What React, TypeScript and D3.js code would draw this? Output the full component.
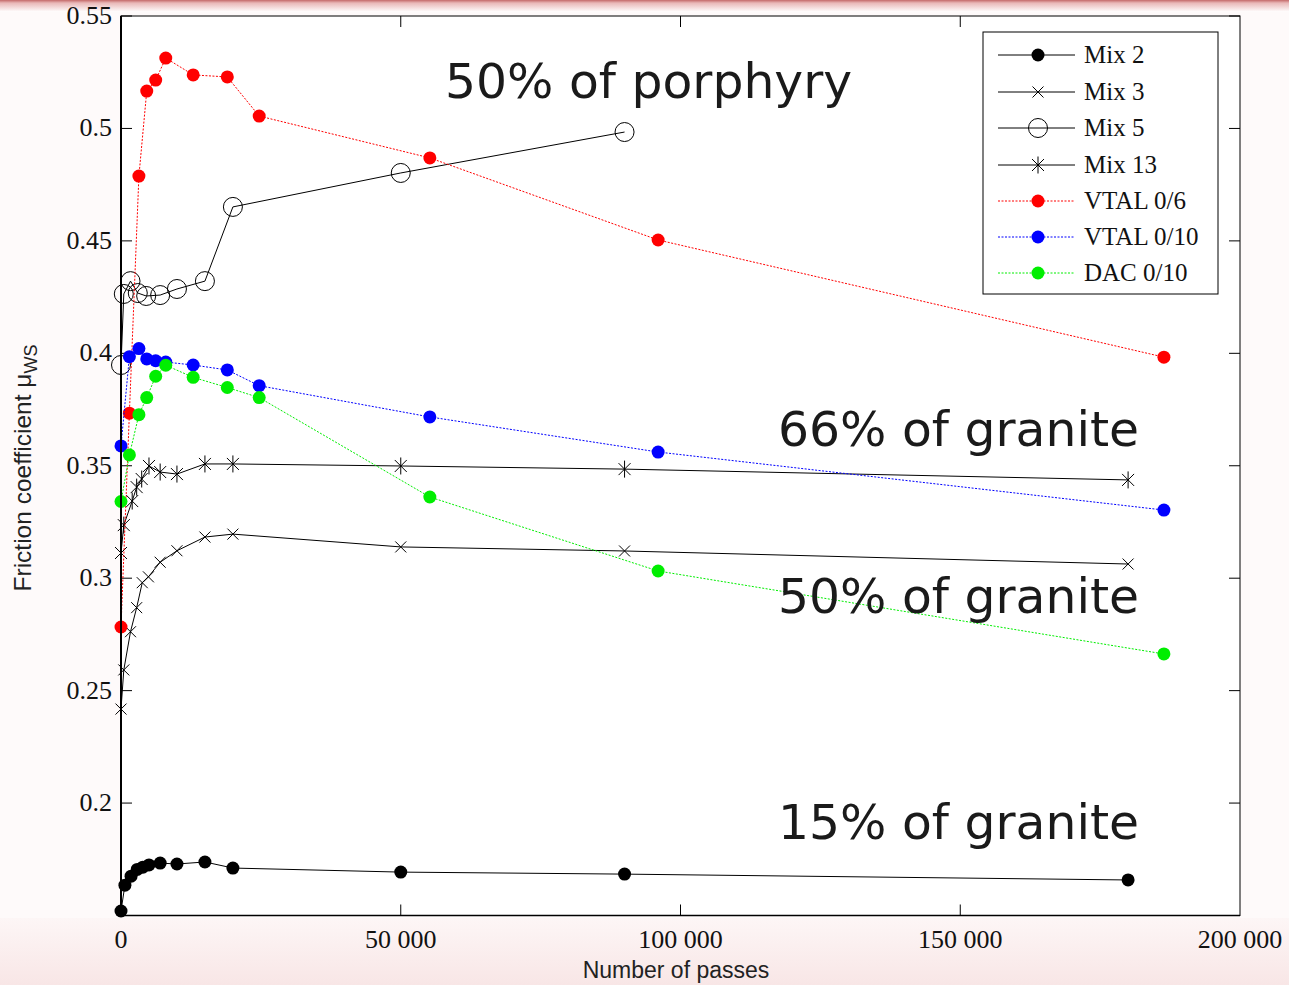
import React from "react";
import * as d3 from "d3";

// ---- Data ----
const mix2X = [0, 700, 1800, 2900, 3900, 5000, 7000, 10000, 15000, 20000, 50000, 90000, 180000];
const mix2Y = [0.152, 0.1635, 0.1675, 0.1705, 0.1715, 0.1725, 0.1733, 0.1729, 0.1738, 0.1711, 0.1693, 0.1684, 0.1658];

const mix3X = [0, 500, 1700, 2800, 3800, 4900, 7000, 10000, 15000, 20000, 50000, 90000, 180000];
const mix3Y = [0.2418, 0.2592, 0.2762, 0.2869, 0.298, 0.3006, 0.3071, 0.3122, 0.3183, 0.3196, 0.3139, 0.3121, 0.3063];

const mix5X = [0, 500, 1700, 3000, 4500, 7000, 10000, 15000, 20000, 50000, 90000];
const mix5Y = [0.3948, 0.4264, 0.4321, 0.4268, 0.4255, 0.4259, 0.4286, 0.4321, 0.4651, 0.4802, 0.4984];

const mix13X = [0, 500, 2000, 2800, 3700, 5000, 7000, 10000, 15000, 20000, 50000, 90000, 180000];
const mix13Y = [0.3112, 0.3236, 0.3343, 0.3405, 0.3441, 0.3499, 0.3472, 0.3463, 0.3508, 0.3508, 0.3499, 0.3485, 0.3437];

const vtalX = [0, 1500, 3200, 4600, 6200, 8000, 12900, 19000, 24700, 55200, 96000, 186400];
const vtal6Y = [0.2783, 0.3734, 0.4788, 0.5166, 0.5215, 0.5313, 0.5238, 0.5229, 0.5055, 0.4869, 0.4504, 0.3983];
const vtal10Y = [0.3588, 0.3985, 0.4021, 0.3975, 0.3967, 0.3961, 0.3948, 0.3926, 0.3856, 0.3717, 0.3561, 0.3303];
const dacY = [0.3341, 0.3548, 0.3727, 0.3803, 0.3898, 0.3947, 0.3893, 0.3848, 0.3803, 0.3361, 0.3032, 0.2663];

const xTicks = [0, 50000, 100000, 150000, 200000];
const xTickLabels = ["0", "50 000", "100 000", "150 000", "200 000"];
const yTicks = [0.2, 0.25, 0.3, 0.35, 0.4, 0.45, 0.5, 0.55];
const yTickLabels = ["0.2", "0.25", "0.3", "0.35", "0.4", "0.45", "0.5", "0.55"];

const annotations = ["50% of porphyry", "66% of granite", "50% of granite", "15% of granite"];

type Marker = "dot" | "x" | "circle" | "star";
interface Series {
  name: string;
  xs: number[];
  ys: number[];
  color: string;
  dashed: boolean;
  marker: Marker;
}

const series: Series[] = [
  { name: "Mix 2", xs: mix2X, ys: mix2Y, color: "#000", dashed: false, marker: "dot" },
  { name: "Mix 3", xs: mix3X, ys: mix3Y, color: "#000", dashed: false, marker: "x" },
  { name: "Mix 5", xs: mix5X, ys: mix5Y, color: "#000", dashed: false, marker: "circle" },
  { name: "Mix 13", xs: mix13X, ys: mix13Y, color: "#000", dashed: false, marker: "star" },
  { name: "VTAL 0/6", xs: vtalX, ys: vtal6Y, color: "#ff0000", dashed: true, marker: "dot" },
  { name: "VTAL 0/10", xs: vtalX, ys: vtal10Y, color: "#0000ff", dashed: true, marker: "dot" },
  { name: "DAC 0/10", xs: vtalX, ys: dacY, color: "#00ee00", dashed: true, marker: "dot" },
];

const W = 1289;
const H = 985;
const left = 121;
const right = 1240;
const top = 16;
const bottom = 915.5;

const xScale = d3.scaleLinear().domain([0, 200000]).range([left, right]);
const yScale = d3.scaleLinear().domain([0.15, 0.55]).range([bottom, top]);

function MarkerShape({ m, x, y, color }: { m: Marker; x: number; y: number; color: string }) {
  if (m === "dot") return <circle cx={x} cy={y} r={6.5} fill={color} />;
  if (m === "circle") return <circle cx={x} cy={y} r={9.5} fill="none" stroke="#000" strokeWidth={1} />;
  if (m === "x") {
    const s = 5.5;
    return (
      <g stroke="#000" strokeWidth={1}>
        <line x1={x - s} y1={y - s} x2={x + s} y2={y + s} />
        <line x1={x - s} y1={y + s} x2={x + s} y2={y - s} />
      </g>
    );
  }
  const s = 6;
  return (
    <g stroke="#000" strokeWidth={1}>
      <line x1={x - s} y1={y - s} x2={x + s} y2={y + s} />
      <line x1={x - s} y1={y + s} x2={x + s} y2={y - s} />
      <line x1={x} y1={y - 8.5} x2={x} y2={y + 8.5} />
    </g>
  );
}

export default function App() {
  const line = d3
    .line<[number, number]>()
    .x((d) => xScale(d[0]))
    .y((d) => yScale(d[1]));

  const legendRows = [55, 92, 128, 165, 201, 237, 273];

  return (
    <svg
      width={W}
      height={H}
      style={{ position: "absolute", left: 0, top: 0, display: "block" }}
      xmlns="http://www.w3.org/2000/svg"
    >
      <defs>
        <linearGradient id="bgTop" x1="0" y1="0" x2="0" y2="1">
          <stop offset="0" stopColor="#c46a6a" />
          <stop offset="0.25" stopColor="#e9b8b8" />
          <stop offset="1" stopColor="#ffffff" />
        </linearGradient>
        <linearGradient id="bgBottom" x1="0" y1="0" x2="0" y2="1">
          <stop offset="0" stopColor="#fdf6f6" />
          <stop offset="1" stopColor="#f8e6e6" />
        </linearGradient>
      </defs>
      <rect x={0} y={0} width={W} height={H} fill="#fefafa" />
      <rect x={0} y={0} width={W} height={12} fill="url(#bgTop)" />
      <rect x={0} y={918} width={W} height={H - 918} fill="url(#bgBottom)" />
      <rect x={left} y={top} width={right - left} height={bottom - top} fill="#ffffff" />

      {/* ticks */}
      <g stroke="#000" strokeWidth={1}>
        {xTicks.slice(1, -1).map((t) => (
          <g key={"xt" + t}>
            <line x1={xScale(t)} x2={xScale(t)} y1={bottom} y2={bottom - 11} />
            <line x1={xScale(t)} x2={xScale(t)} y1={top} y2={top + 11} />
          </g>
        ))}
        {yTicks.map((t) => (
          <g key={"yt" + t}>
            <line x1={left} x2={left + 11} y1={yScale(t)} y2={yScale(t)} />
            <line x1={right} x2={right - 11} y1={yScale(t)} y2={yScale(t)} />
          </g>
        ))}
      </g>

      {/* series */}
      {series.map((s) => {
        const pts: [number, number][] = s.xs.map((x, i) => [x, s.ys[i]]);
        return (
          <g key={s.name}>
            <path
              d={line(pts) || ""}
              fill="none"
              stroke={s.color}
              strokeWidth={1}
              strokeDasharray={s.dashed ? "2,1.5" : undefined}
            />
            {pts.map((p, i) => (
              <MarkerShape key={i} m={s.marker} x={xScale(p[0])} y={yScale(p[1])} color={s.color} />
            ))}
          </g>
        );
      })}

      {/* axes box */}
      <rect x={left} y={top} width={right - left} height={bottom - top} fill="none" stroke="#000" strokeWidth={1} />
      <line x1={left} x2={left} y1={top} y2={bottom} stroke="#000" strokeWidth={2} />
      <line x1={left} x2={right} y1={bottom} y2={bottom} stroke="#000" strokeWidth={1.5} />

      {/* tick labels */}
      <g fontFamily="'Liberation Serif', 'Times New Roman', serif" fontSize={26} fill="#111">
        {xTicks.map((t, i) => (
          <text key={"xl" + t} x={xScale(t)} y={948} textAnchor="middle">
            {xTickLabels[i]}
          </text>
        ))}
        {yTicks.map((t, i) => (
          <text key={"yl" + t} x={112} y={yScale(t) + 8} textAnchor="end">
            {yTickLabels[i]}
          </text>
        ))}
      </g>

      {/* axis labels */}
      <text
        x={676}
        y={978}
        textAnchor="middle"
        fontFamily="'Liberation Sans', Arial, sans-serif"
        fontSize={23}
        fill="#222"
      >
        Number of passes
      </text>
      <text
        transform={`translate(31, 468) rotate(-90)`}
        textAnchor="middle"
        fontFamily="'Liberation Sans', Arial, sans-serif"
        fontSize={24.5}
        fill="#222"
      >
        Friction coefficient μ
        <tspan fontSize={18} dy={6}>WS</tspan>
      </text>

      {/* annotations */}
      <g fontFamily="'DejaVu Sans', Verdana, sans-serif" fontSize={48.8} fill="#1a1a1a">
        <text x={445} y={98}>{annotations[0]}</text>
        <text x={778} y={446}>{annotations[1]}</text>
        <text x={778} y={613}>{annotations[2]}</text>
        <text x={778} y={839}>{annotations[3]}</text>
      </g>

      {/* legend */}
      <rect x={983} y={32} width={235} height={262} fill="#fff" stroke="#000" strokeWidth={1} />
      {series.map((s, i) => {
        const y = legendRows[i];
        return (
          <g key={"lg" + s.name}>
            <line
              x1={998}
              x2={1075}
              y1={y}
              y2={y}
              stroke={s.color}
              strokeWidth={1}
              strokeDasharray={s.dashed ? "2,1.5" : undefined}
            />
            <MarkerShape m={s.marker} x={1038} y={y} color={s.color} />
            <text
              x={1084}
              y={y + 8}
              fontFamily="'Liberation Serif', 'Times New Roman', serif"
              fontSize={25}
              fill="#111"
            >
              {s.name}
            </text>
          </g>
        );
      })}
    </svg>
  );
}
